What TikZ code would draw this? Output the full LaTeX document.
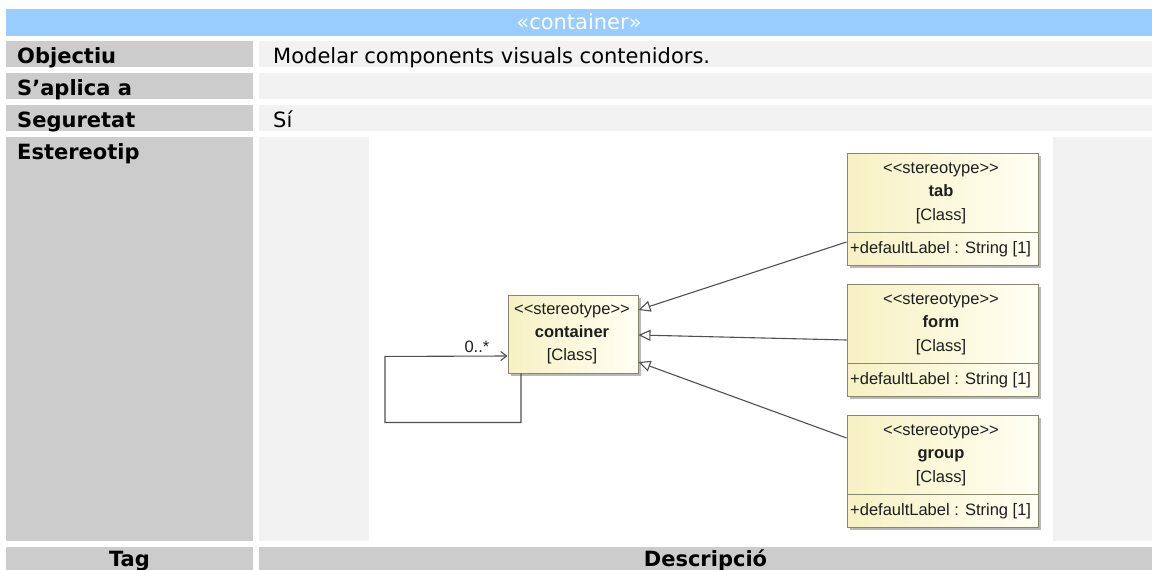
\documentclass[tikz,border=0pt]{standalone}
\usepackage{fontspec}
\setmainfont{DejaVu Sans}
\newfontfamily\umlfont{Liberation Sans}
\usetikzlibrary{arrows.meta,shadows,calc}

\definecolor{headblue}{RGB}{153,204,255}
\definecolor{keygrey}{RGB}{204,204,204}
\definecolor{valgrey}{RGB}{242,242,242}
\definecolor{boxline}{RGB}{135,135,110}
\definecolor{boxtop}{RGB}{247,241,195}
\definecolor{boxbot}{RGB}{255,255,243}
\definecolor{wire}{RGB}{80,80,80}
\definecolor{umlink}{RGB}{30,30,30}

\newcommand\stereotxt{<\kern0pt<stereotype>\kern0pt>}

\begin{document}
\begin{tikzpicture}[x=1pt,y=-1pt,
  keytext/.style={anchor=base west, inner sep=0pt, font=\fontsize{21}{25}\selectfont\bfseries},
  valtext/.style={anchor=base west, inner sep=0pt, font=\fontsize{21}{25}\selectfont},
  headtext/.style={anchor=base, inner sep=0pt, font=\fontsize{21}{25}\selectfont},
  umlbox/.style={draw=boxline, line width=0.9pt, left color=boxtop, right color=boxbot,
    inner sep=0pt, general shadow={fill=black, opacity=0.28, shadow xshift=3pt, shadow yshift=-3pt}},
  umltext/.style={anchor=base, inner sep=0pt, text=umlink, font=\umlfont\fontsize{16.5}{19}\selectfont},
  umlname/.style={umltext, font=\umlfont\fontsize{16.5}{19}\selectfont\bfseries},
  umlattr/.style={umltext, anchor=base west},
  gen/.style={draw=wire, line width=1.1pt, -{Triangle[open, length=12pt, width=11pt, fill=white]}},
  assoc/.style={draw=wire, line width=1.1pt, -{Straight Barb[length=6pt, width=9pt]}},
  sepline/.style={draw=boxline, line width=0.9pt}
]
\useasboundingbox (0,0) rectangle (1152,570);
\clip (0,0) rectangle (1152,570);

% table header
\fill[headblue] (6,9) rectangle (1152,36);
\node[headtext, text=white] (head) at (579,30) {«container»};

% table rows: key column and value column
\fill[keygrey] (6,41) rectangle (253,67);
\fill[valgrey] (259,41) rectangle (1152,67);
\fill[keygrey] (6,73) rectangle (253,99);
\fill[valgrey] (259,73) rectangle (1152,99);
\fill[keygrey] (6,105) rectangle (253,131);
\fill[valgrey] (259,105) rectangle (1152,131);
\fill[keygrey] (6,137) rectangle (253,541);
\fill[valgrey] (259,137) rectangle (1152,541);
\fill[keygrey] (6,547) rectangle (253,575);
\fill[keygrey] (259,547) rectangle (1152,575);

\node[keytext] (k1) at (17,63) {Objectiu};
\node[valtext] (v1) at (273,63) {Modelar components visuals contenidors.};
\node[keytext] (k2) at (17,95) {S’aplica a};
\node[keytext] (k3) at (17,127) {Seguretat};
\node[valtext] (v3) at (273,127) {Sí};
\node[keytext] (k4) at (17,159) {Estereotip};
\node[headtext, font=\fontsize{21}{25}\selectfont\bfseries] (tag) at (129.5,566) {Tag};
\node[headtext, font=\fontsize{21}{25}\selectfont\bfseries] (desc) at (705.5,566) {Descripció};

% diagram area
\fill[white] (369,137) rectangle (1053,541);

% classes
\node[umlbox, minimum width=130pt, minimum height=78pt] (container) at (573,334) {};
\node[umlbox, minimum width=191pt, minimum height=112pt] (tab) at (942.5,209) {};
\node[umlbox, minimum width=191pt, minimum height=112pt] (form) at (942.5,340) {};
\node[umlbox, minimum width=191pt, minimum height=112pt] (group) at (942.5,471) {};

\foreach \b in {tab,form,group}{
  \draw[sepline] ([yshift=-23pt]\b.west) -- ([yshift=-23pt]\b.east);
}

\node[umltext] (container-st) at (572,314) {\stereotxt};
\node[umlname] (container-nm) at (572,337) {container};
\node[umltext] (container-cl) at (572,360) {[Class]};

\node[umltext] (tab-st) at (941,173) {\stereotxt};
\node[umlname] (tab-nm) at (941,196) {tab};
\node[umltext] (tab-cl) at (941,220) {[Class]};
\node[umlattr] (tab-at) at (850,253) {+defaultLabel : String [1]};

\node[umltext] (form-st) at (941,304) {\stereotxt};
\node[umlname] (form-nm) at (941,327) {form};
\node[umltext] (form-cl) at (941,351) {[Class]};
\node[umlattr] (form-at) at (850,384) {+defaultLabel : String [1]};

\node[umltext] (group-st) at (941,435) {\stereotxt};
\node[umlname] (group-nm) at (941,458) {group};
\node[umltext] (group-cl) at (941,482) {[Class]};
\node[umlattr] (group-at) at (850,515) {+defaultLabel : String [1]};

% generalizations
\draw[gen] ([yshift=-33pt]tab.west) -- ([yshift=24pt]container.east);
\draw[gen] (form.west) -- ([yshift=-1pt]container.east);
\draw[gen] ([yshift=33pt]group.west) -- ([yshift=-28pt]container.east);

% self association
\draw[assoc] ([xshift=-52pt]container.south) -- ++(0,49) -- ++(-136,0) -- ++(0,-66)
  -- node[pos=0.75, above, inner sep=0pt, yshift=3pt, text=umlink, font=\umlfont\fontsize{16.5}{19}\selectfont] (mult) {0..*}
  ([yshift=-22pt]container.west);
\end{tikzpicture}
\end{document}
